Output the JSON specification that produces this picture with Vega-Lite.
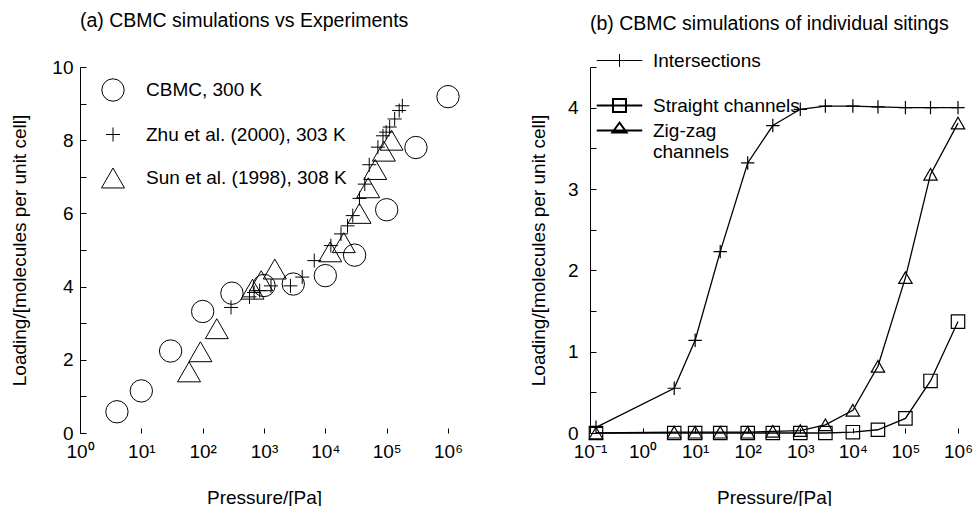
{
  "$schema": "https://vega.github.io/schema/vega-lite/v6.json",
  "background": "white",
  "padding": {"left": 10, "top": 10, "right": 5, "bottom": 0},
  "spacing": 142,
  "bounds": "flush",
  "resolve": {
    "scale": {"shape": "independent", "size": "independent", "strokeWidth": "independent", "x": "independent", "y": "independent"},
    "legend": {"shape": "independent", "size": "independent", "strokeWidth": "independent"}
  },
  "config": {
    "font": "Liberation Sans",
    "view": {"stroke": null},
    "axis": {
      "grid": false,
      "labelFont": "Liberation Sans",
      "labelFontSize": 19,
      "labelColor": "black",
      "labelOverlap": false,
      "labelFlush": false,
      "titleFont": "Liberation Sans",
      "titleFontSize": 19,
      "titleFontWeight": "normal",
      "titleColor": "black",
      "tickColor": "black",
      "tickWidth": 1,
      "domainColor": "black",
      "domainWidth": 1
    },
    "legend": {
      "labelFont": "Liberation Sans",
      "labelFontSize": 19,
      "labelColor": "black",
      "labelLimit": 400,
      "padding": 0
    },
    "title": {
      "font": "Liberation Sans",
      "fontSize": 19.5,
      "fontWeight": "normal",
      "color": "black",
      "anchor": "start",
      "frame": "group"
    }
  },
  "datasets": {
    "experiments": [
      {"source": "CBMC, 300 K", "pressure": 4, "loading": 0.58},
      {"source": "CBMC, 300 K", "pressure": 10, "loading": 1.15},
      {"source": "CBMC, 300 K", "pressure": 30, "loading": 2.24},
      {"source": "CBMC, 300 K", "pressure": 100, "loading": 3.32},
      {"source": "CBMC, 300 K", "pressure": 300, "loading": 3.82},
      {"source": "CBMC, 300 K", "pressure": 1000, "loading": 4.03},
      {"source": "CBMC, 300 K", "pressure": 3000, "loading": 4.07},
      {"source": "CBMC, 300 K", "pressure": 10000, "loading": 4.3},
      {"source": "CBMC, 300 K", "pressure": 30000, "loading": 4.86},
      {"source": "CBMC, 300 K", "pressure": 100000, "loading": 6.1},
      {"source": "CBMC, 300 K", "pressure": 300000, "loading": 7.8},
      {"source": "CBMC, 300 K", "pressure": 1000000, "loading": 9.19},
      {"source": "Zhu et al. (2000), 303 K", "pressure": 290, "loading": 3.43},
      {"source": "Zhu et al. (2000), 303 K", "pressure": 580, "loading": 3.72},
      {"source": "Zhu et al. (2000), 303 K", "pressure": 690, "loading": 3.84},
      {"source": "Zhu et al. (2000), 303 K", "pressure": 850, "loading": 3.89},
      {"source": "Zhu et al. (2000), 303 K", "pressure": 1300, "loading": 4.02},
      {"source": "Zhu et al. (2000), 303 K", "pressure": 2700, "loading": 4.02},
      {"source": "Zhu et al. (2000), 303 K", "pressure": 4200, "loading": 4.26},
      {"source": "Zhu et al. (2000), 303 K", "pressure": 6600, "loading": 4.71},
      {"source": "Zhu et al. (2000), 303 K", "pressure": 12300, "loading": 5.12},
      {"source": "Zhu et al. (2000), 303 K", "pressure": 18000, "loading": 5.44},
      {"source": "Zhu et al. (2000), 303 K", "pressure": 23000, "loading": 5.66},
      {"source": "Zhu et al. (2000), 303 K", "pressure": 28000, "loading": 5.94},
      {"source": "Zhu et al. (2000), 303 K", "pressure": 36000, "loading": 6.41},
      {"source": "Zhu et al. (2000), 303 K", "pressure": 44000, "loading": 6.8},
      {"source": "Zhu et al. (2000), 303 K", "pressure": 52000, "loading": 7.33},
      {"source": "Zhu et al. (2000), 303 K", "pressure": 72000, "loading": 7.81},
      {"source": "Zhu et al. (2000), 303 K", "pressure": 87000, "loading": 8.12},
      {"source": "Zhu et al. (2000), 303 K", "pressure": 98000, "loading": 8.22},
      {"source": "Zhu et al. (2000), 303 K", "pressure": 112000, "loading": 8.36},
      {"source": "Zhu et al. (2000), 303 K", "pressure": 135000, "loading": 8.58},
      {"source": "Zhu et al. (2000), 303 K", "pressure": 160000, "loading": 8.81},
      {"source": "Zhu et al. (2000), 303 K", "pressure": 180000, "loading": 8.94},
      {"source": "Sun et al. (1998), 308 K", "pressure": 60, "loading": 1.67},
      {"source": "Sun et al. (1998), 308 K", "pressure": 92, "loading": 2.22},
      {"source": "Sun et al. (1998), 308 K", "pressure": 170, "loading": 2.85},
      {"source": "Sun et al. (1998), 308 K", "pressure": 650, "loading": 3.93},
      {"source": "Sun et al. (1998), 308 K", "pressure": 900, "loading": 4.16},
      {"source": "Sun et al. (1998), 308 K", "pressure": 1500, "loading": 4.48},
      {"source": "Sun et al. (1998), 308 K", "pressure": 12000, "loading": 4.95},
      {"source": "Sun et al. (1998), 308 K", "pressure": 20000, "loading": 5.2},
      {"source": "Sun et al. (1998), 308 K", "pressure": 36000, "loading": 6.0},
      {"source": "Sun et al. (1998), 308 K", "pressure": 50000, "loading": 6.7},
      {"source": "Sun et al. (1998), 308 K", "pressure": 65000, "loading": 7.2},
      {"source": "Sun et al. (1998), 308 K", "pressure": 90000, "loading": 7.7},
      {"source": "Sun et al. (1998), 308 K", "pressure": 120000, "loading": 8.0}
    ],
    "sitings": [
      {"site": "Intersections", "pressure": 0.13, "loading": 0.07},
      {"site": "Intersections", "pressure": 4, "loading": 0.55},
      {"site": "Intersections", "pressure": 10, "loading": 1.14},
      {"site": "Intersections", "pressure": 30, "loading": 2.23},
      {"site": "Intersections", "pressure": 100, "loading": 3.32},
      {"site": "Intersections", "pressure": 300, "loading": 3.78},
      {"site": "Intersections", "pressure": 1000, "loading": 3.98},
      {"site": "Intersections", "pressure": 3000, "loading": 4.02},
      {"site": "Intersections", "pressure": 10000, "loading": 4.02},
      {"site": "Intersections", "pressure": 30000, "loading": 4.01},
      {"site": "Intersections", "pressure": 100000, "loading": 4.0},
      {"site": "Intersections", "pressure": 300000, "loading": 4.0},
      {"site": "Intersections", "pressure": 1000000, "loading": 4.0},
      {"site": "Straight channels", "pressure": 0.13, "loading": 0.0},
      {"site": "Straight channels", "pressure": 4, "loading": 0.0},
      {"site": "Straight channels", "pressure": 10, "loading": 0.0},
      {"site": "Straight channels", "pressure": 30, "loading": 0.0},
      {"site": "Straight channels", "pressure": 100, "loading": 0.0},
      {"site": "Straight channels", "pressure": 300, "loading": 0.0},
      {"site": "Straight channels", "pressure": 1000, "loading": 0.0},
      {"site": "Straight channels", "pressure": 3000, "loading": 0.0},
      {"site": "Straight channels", "pressure": 10000, "loading": 0.01},
      {"site": "Straight channels", "pressure": 30000, "loading": 0.04},
      {"site": "Straight channels", "pressure": 100000, "loading": 0.18},
      {"site": "Straight channels", "pressure": 300000, "loading": 0.64},
      {"site": "Straight channels", "pressure": 1000000, "loading": 1.37},
      {"site": "Zig-zag channels", "pressure": 0.13, "loading": 0.0},
      {"site": "Zig-zag channels", "pressure": 4, "loading": 0.01},
      {"site": "Zig-zag channels", "pressure": 10, "loading": 0.01},
      {"site": "Zig-zag channels", "pressure": 30, "loading": 0.01},
      {"site": "Zig-zag channels", "pressure": 100, "loading": 0.01},
      {"site": "Zig-zag channels", "pressure": 300, "loading": 0.02},
      {"site": "Zig-zag channels", "pressure": 1000, "loading": 0.03},
      {"site": "Zig-zag channels", "pressure": 3000, "loading": 0.1},
      {"site": "Zig-zag channels", "pressure": 10000, "loading": 0.28},
      {"site": "Zig-zag channels", "pressure": 30000, "loading": 0.82},
      {"site": "Zig-zag channels", "pressure": 100000, "loading": 1.91},
      {"site": "Zig-zag channels", "pressure": 300000, "loading": 3.18},
      {"site": "Zig-zag channels", "pressure": 1000000, "loading": 3.81}
    ]
  },
  "hconcat": [
    {
      "title": {"text": "(a) CBMC simulations vs Experiments", "offset": 27},
      "width": 368,
      "height": 366,
      "data": {"name": "experiments"},
      "mark": {"type": "point", "filled": false, "color": "black", "strokeWidth": 1, "opacity": 1},
      "encoding": {
        "x": {
          "field": "pressure",
          "type": "quantitative",
          "scale": {"type": "log", "domain": [1, 1000000], "nice": false},
          "axis": {
            "title": "Pressure/[Pa]",
            "values": [1, 10, 100, 1000, 10000, 100000, 1000000],
            "labelExpr": "'10' + (datum.value < 1 ? '⁻' : '') + substring('⁰¹²³⁴⁵⁶⁷⁸⁹', abs(round(log(datum.value) / LN10)), abs(round(log(datum.value) / LN10)) + 1)",
            "domain": false,
            "tickSize": -5,
            "labelPadding": 14,
            "titlePadding": 27
          }
        },
        "y": {
          "field": "loading",
          "type": "quantitative",
          "scale": {"domain": [0, 10], "nice": false},
          "axis": {
            "title": "Loading/[molecules per unit cell]",
            "values": [0, 1, 2, 3, 4, 5, 6, 7, 8, 9, 10],
            "labelExpr": "datum.value % 2 === 0 ? format(datum.value, 'd') : ''",
            "tickSize": -6,
            "labelPadding": 13,
            "titlePadding": 22
          }
        },
        "shape": {
          "field": "source",
          "type": "nominal",
          "scale": {
            "domain": ["CBMC, 300 K", "Zhu et al. (2000), 303 K", "Sun et al. (1998), 308 K"],
            "range": ["circle", "M-1,0H1M0,-1V1", "triangle-up"]
          },
          "legend": {
            "title": null,
            "orient": "none",
            "legendX": 21,
            "legendY": 11,
            "symbolStrokeWidth": 1,
            "labelOffset": 21,
            "rowPadding": 21
          }
        },
        "size": {
          "field": "source",
          "type": "nominal",
          "scale": {
            "type": "ordinal",
            "domain": ["CBMC, 300 K", "Zhu et al. (2000), 303 K", "Sun et al. (1998), 308 K"],
            "range": [500, 196, 529]
          },
          "legend": {
            "title": null,
            "orient": "none",
            "legendX": 21,
            "legendY": 11,
            "symbolStrokeWidth": 1,
            "labelOffset": 21,
            "rowPadding": 21
          }
        }
      }
    },
    {
      "title": {"text": "(b) CBMC simulations of individual sitings", "offset": 17},
      "width": 368,
      "height": 366,
      "data": {"name": "sitings"},
      "resolve": {
        "scale": {"shape": "independent"},
        "legend": {"shape": "independent", "strokeWidth": "independent"}
      },
      "encoding": {
        "x": {
          "field": "pressure",
          "type": "quantitative",
          "scale": {"type": "log", "domain": [0.1, 1000000], "nice": false},
          "axis": {
            "title": "Pressure/[Pa]",
            "values": [0.1, 1, 10, 100, 1000, 10000, 100000, 1000000],
            "labelExpr": "'10' + (datum.value < 1 ? '⁻' : '') + substring('⁰¹²³⁴⁵⁶⁷⁸⁹', abs(round(log(datum.value) / LN10)), abs(round(log(datum.value) / LN10)) + 1)",
            "domain": false,
            "tickSize": -5,
            "labelPadding": 14,
            "titlePadding": 27
          }
        },
        "y": {
          "field": "loading",
          "type": "quantitative",
          "scale": {"domain": [0, 4.5], "nice": false},
          "axis": {
            "title": "Loading/[molecules per unit cell]",
            "values": [0, 0.5, 1, 1.5, 2, 2.5, 3, 3.5, 4, 4.5],
            "labelExpr": "datum.value % 1 === 0 ? format(datum.value, 'd') : ''",
            "tickSize": -6,
            "labelPadding": 18,
            "titlePadding": 19
          }
        }
      },
      "layer": [
        {
          "mark": {"type": "line", "color": "black", "strokeWidth": 1.3},
          "encoding": {"detail": {"field": "site", "type": "nominal"}}
        },
        {
          "mark": {"type": "point", "filled": false, "color": "black", "strokeWidth": 1.2, "opacity": 1, "size": 180},
          "encoding": {
            "shape": {
              "field": "site",
              "type": "nominal",
              "scale": {
                "domain": ["Intersections", "Straight channels", "Zig-zag channels"],
                "range": ["M-1,0H1M0,-1V1", "square", "triangle-up"]
              },
              "legend": null
            }
          }
        },
        {
          "mark": {"type": "point", "filled": false, "color": "black", "opacity": 0, "size": 169},
          "encoding": {
            "shape": {
              "field": "site",
              "type": "nominal",
              "scale": {
                "domain": ["Intersections", " ", "Straight channels", "Zig-zag channels"],
                "range": ["M-3.5,0H3.5M0,-1V1", "M0,0", "M-3.5,0H3.5M-1,-1H1V1H-1Z", "M-3.5,0H3.5M0,-1.2L1.1,0.3H-1.1Z"]
              },
              "legend": {
                "title": null,
                "orient": "none",
                "legendX": 20,
                "legendY": -16,
                "symbolSize": 169,
                "symbolOpacity": 1,
                "labelOffset": 24,
                "rowPadding": 2,
                "labelExpr": "datum.value === 'Zig-zag channels' ? ['Zig-zag', 'channels'] : datum.label"
              }
            },
            "strokeWidth": {
              "field": "site",
              "type": "nominal",
              "scale": {
                "type": "ordinal",
                "domain": ["Intersections", " ", "Straight channels", "Zig-zag channels"],
                "range": [1, 1, 2, 2]
              },
              "legend": {
                "title": null,
                "orient": "none",
                "legendX": 20,
                "legendY": -16,
                "symbolSize": 169,
                "symbolOpacity": 1,
                "labelOffset": 24,
                "rowPadding": 2,
                "labelExpr": "datum.value === 'Zig-zag channels' ? ['Zig-zag', 'channels'] : datum.label"
              }
            }
          }
        }
      ]
    }
  ]
}
